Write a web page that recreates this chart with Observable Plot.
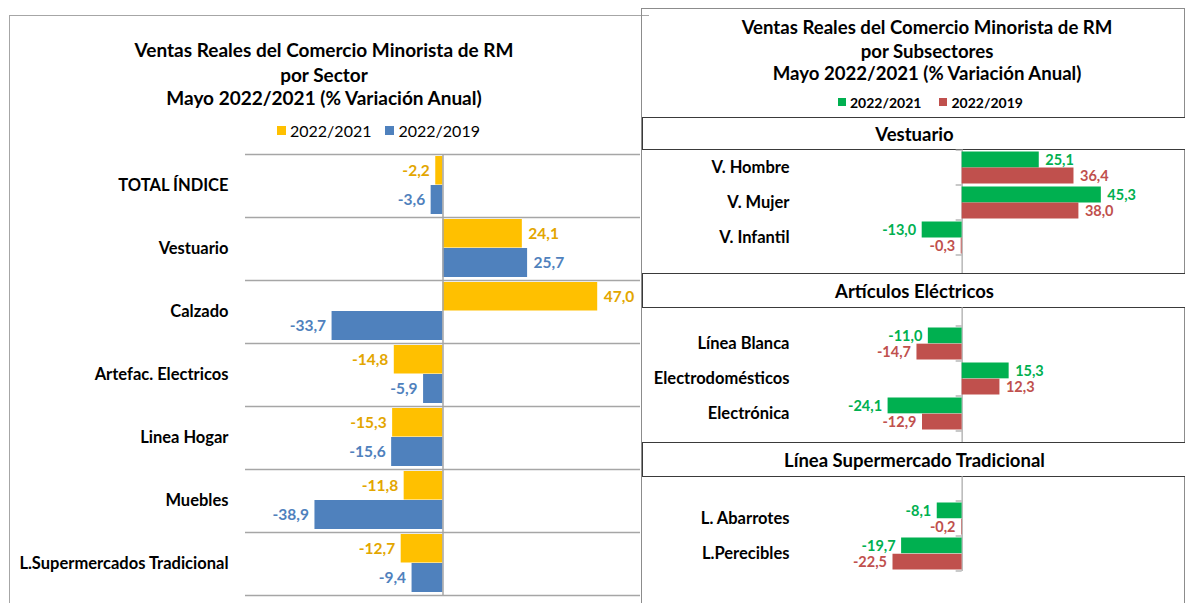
<!DOCTYPE html>
<html><head><meta charset="utf-8">
<script src="https://cdn.jsdelivr.net/npm/d3@7"></script>
<script src="https://cdn.jsdelivr.net/npm/@observablehq/plot@0.6"></script>
<style>
body{margin:0;background:#fff;font-family:Lato,"Open Sans",sans-serif;}
#root{position:relative;width:1185px;height:603px;overflow:hidden;background:#fff;}
.t{position:absolute;white-space:nowrap;font-weight:bold;color:#000;transform:translateX(-50%);line-height:22px;}
.box{position:absolute;box-sizing:border-box;}
</style></head><body><div id="root"></div>
<script>
// ---------- data ----------
const seriesNames = ["2022/2021", "2022/2019"];

const sectors = ["TOTAL ÍNDICE", "Vestuario", "Calzado", "Artefac. Electricos", "Linea Hogar", "Muebles", "L.Supermercados Tradicional"];
const sector2021 = [-2.2, 24.1, 47.0, -14.8, -15.3, -11.8, -12.7];
const sector2019 = [-3.6, 25.7, -33.7, -5.9, -15.6, -38.9, -9.4];

const groups = ["Vestuario", "Artículos Eléctricos", "Línea Supermercado Tradicional"];
const vestSub = ["V. Hombre", "V. Mujer", "V. Infantil"];
const vest2021 = [25.1, 45.3, -13.0];
const vest2019 = [36.4, 38.0, -0.3];
const elecSub = ["Línea Blanca", "Electrodomésticos", "Electrónica"];
const elec2021 = [-11.0, 15.3, -24.1];
const elec2019 = [-14.7, 12.3, -12.9];
const superSub = ["L. Abarrotes", "L.Perecibles"];
const super2021 = [-8.1, -19.7];
const super2019 = [-0.2, -22.5];

const leftTitle = ["Ventas Reales del Comercio Minorista de RM", "por Sector", "Mayo 2022/2021 (% Variación Anual)"];
const rightTitle = ["Ventas Reales del Comercio Minorista de RM", "por Subsectores", "Mayo 2022/2021 (% Variación Anual)"];

// ---------- styles ----------
const leftColors = ["#FFC000", "#4F81BD"];
const leftLabelColors = ["#E3A600", "#4F81BD"];
const rightColors = ["#00B050", "#C0504D"];
const FONT = "Lato, 'Open Sans', sans-serif";
const fmt = v => v.toFixed(1).replace(".", ",");

const root = document.getElementById("root");
function add(tag, cls, css, text) {
  const d = document.createElement(tag);
  if (cls) d.className = cls;
  Object.assign(d.style, css || {});
  if (text != null) d.textContent = text;
  root.appendChild(d);
  return d;
}
function place(node, left, top) {
  const w = add("div", null, {position: "absolute", left: left + "px", top: top + "px"});
  w.appendChild(node);
}

// ---------- panel borders ----------
add("div", "box", {left: "9px", top: "15px", width: "640px", height: "600px", borderLeft: "1.5px solid #A6A6A6", borderTop: "1.5px solid #A6A6A6"});
add("div", "box", {left: "641px", top: "8px", width: "544px", height: "600px", border: "1.5px solid #8C8C8C"});

// ---------- titles ----------
[50, 75, 98].forEach((y, i) => add("div", "t", {left: "324px", top: (y - 11) + "px", fontSize: "19px"}, leftTitle[i]));
[27, 51, 73].forEach((y, i) => add("div", "t", {left: "927px", top: (y - 11) + "px", fontSize: "18.6px"}, rightTitle[i]));

// ---------- legends ----------
function legend(x, y, colors, bold, size, sq, gap) {
  const L = add("div", null, {position: "absolute", left: x + "px", top: (y - 10) + "px", display: "flex", alignItems: "center", height: "20px", fontSize: size + "px", fontWeight: bold ? "bold" : "normal", color: "#000", whiteSpace: "nowrap"});
  seriesNames.forEach((s, i) => {
    const it = document.createElement("div");
    it.style.cssText = `display:flex;align-items:center;margin-right:${gap}px`;
    it.innerHTML = `<span style="display:inline-block;width:${sq}px;height:${sq}px;background:${colors[i]};margin-right:4px"></span><span>${s}</span>`;
    L.appendChild(it);
  });
}
legend(277, 130, leftColors, false, 16, 9, 14);
legend(838, 102, rightColors, true, 14, 8, 18);

// ---------- left chart ----------
const leftH = 453, leftMT = 4, leftMB = 8;
const step = (leftH - leftMT - leftMB) / sectors.length;
const L0 = sectors.map((c, i) => ({cat: c, v: sector2021[i]}));
const L1 = sectors.map((c, i) => ({cat: c, v: sector2019[i]}));
const labelMarks = (data, color, dy, size) => [
  Plot.text(data.filter(d => d.v < 0), {x: "v", y: "cat", text: d => fmt(d.v), dy, dx: -6, textAnchor: "end", fill: color, fontSize: size, fontWeight: "bold"}),
  Plot.text(data.filter(d => d.v >= 0), {x: "v", y: "cat", text: d => fmt(d.v), dy, dx: 6, textAnchor: "start", fill: color, fontSize: size, fontWeight: "bold"})
];
const leftPlot = Plot.plot({
  width: 640, height: leftH, marginTop: leftMT, marginBottom: leftMB, marginLeft: 245, marginRight: 0,
  x: {domain: [-60, 60], axis: null},
  y: {domain: sectors, padding: 0, label: null, tickSize: 0, tickPadding: 17},
  style: {fontFamily: FONT, fontSize: "16.5px", fontWeight: "bold", color: "#000", background: "transparent", overflow: "visible"},
  marks: [
    Plot.ruleY(sectors, {dy: -step / 2, stroke: "#A6A6A6", strokeWidth: 1.5}),
    Plot.ruleY(sectors.slice(-1), {dy: step / 2, stroke: "#A6A6A6", strokeWidth: 1.5}),
    Plot.barX(L0, {x: "v", y: "cat", fill: leftColors[0], insetTop: 2, insetBottom: step / 2 + 1}),
    Plot.barX(L1, {x: "v", y: "cat", fill: leftColors[1], insetTop: step / 2 - 0.5, insetBottom: 3}),
    Plot.ruleX([0], {stroke: "#A6A6A6", strokeWidth: 1.5}),
    ...labelMarks(L0, leftLabelColors[0], -15, 15.5),
    ...labelMarks(L1, leftLabelColors[1], 14.5, 15.5)
  ]
});
place(leftPlot, 0, 150);

// ---------- right chart sections ----------
function edgeTicks(cats, len) {
  return (index, scales) => {
    const y = scales.y, x = scales.x;
    const bw = y.bandwidth ? y.bandwidth() : scales.scales.y.bandwidth;
    const ys = cats.map(c => y(c)).concat([y(cats[cats.length - 1]) + bw]);
    const g = d3.create("svg:g");
    g.selectAll("line").data(ys).join("line")
      .attr("x1", x(0) - len).attr("x2", x(0))
      .attr("y1", d => d).attr("y2", d => d)
      .attr("stroke", "#A6A6A6").attr("stroke-width", 1.2);
    return g.node();
  };
}
function section(subs, a, b, height, mt, mb, extendBottom) {
  const bw = (height - mt - mb) / subs.length;
  const d0 = subs.map((c, i) => ({cat: c, v: a[i]}));
  const d1 = subs.map((c, i) => ({cat: c, v: b[i]}));
  return Plot.plot({
    width: 543, height, marginTop: mt, marginBottom: mb, marginLeft: 166, marginRight: 39,
    x: {domain: [-50, 60], axis: null},
    y: {domain: subs, padding: 0, label: null, tickSize: 0, tickPadding: 19},
    style: {fontFamily: FONT, fontSize: "16.5px", fontWeight: "bold", color: "#000", background: "transparent", overflow: "visible"},
    marks: [
      Plot.ruleX([0], {stroke: "#A6A6A6", strokeWidth: 1.2, insetTop: -mt, insetBottom: extendBottom ? -mb : 0}),
      edgeTicks(subs, 6),
      Plot.barX(d0, {x: "v", y: "cat", fill: rightColors[0], insetTop: 1.5, insetBottom: bw / 2}),
      Plot.barX(d1, {x: "v", y: "cat", fill: rightColors[1], insetTop: bw / 2, insetBottom: 1.5}),
      ...labelMarks(d0, rightColors[0], -8, 14.5),
      ...labelMarks(d1, rightColors[1], 8.5, 14.5)
    ]
  });
}
const sectionSpecs = [
  {subs: vestSub, a: vest2021, b: vest2019, headTop: 117, headBot: 149, height: 124, mt: 1, mb: 18, ext: true},
  {subs: elecSub, a: elec2021, b: elec2019, headTop: 273, headBot: 307, height: 135, mt: 18, mb: 11, ext: true},
  {subs: superSub, a: super2021, b: super2019, headTop: 442, headBot: 476, height: 127, mt: 24, mb: 32, ext: false}
];
sectionSpecs.forEach((s, i) => {
  const h = add("div", "box", {left: "642px", top: s.headTop + "px", width: "545px", height: (s.headBot - s.headTop + 1) + "px", border: "1.5px solid #3A3A3A", display: "flex", alignItems: "center", justifyContent: "center", fontWeight: "bold", fontSize: "18.5px", color: "#000", background: "#fff"});
  h.textContent = groups[i];
  place(section(s.subs, s.a, s.b, s.height, s.mt, s.mb, s.ext), 642, s.headBot);
});
</script></body></html>
